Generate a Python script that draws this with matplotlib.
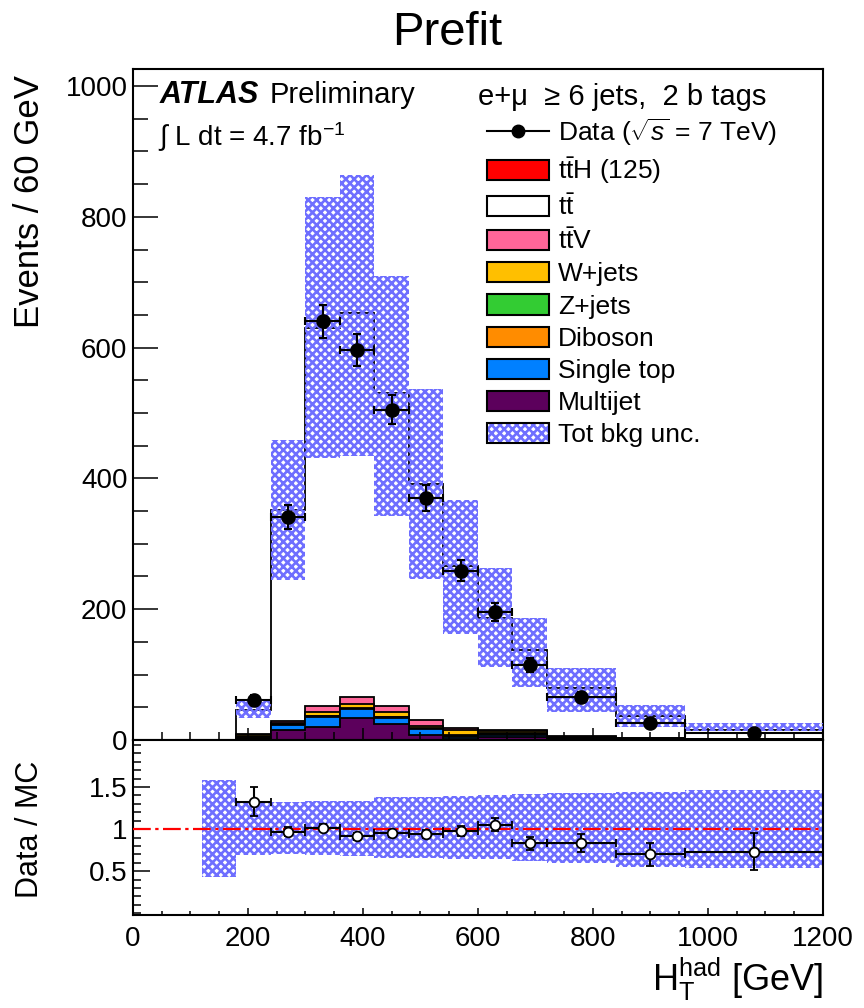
import numpy as np
import matplotlib
matplotlib.use("Agg")
import matplotlib.pyplot as plt
from matplotlib.patches import Patch
from matplotlib.lines import Line2D
from matplotlib.ticker import MultipleLocator

plt.rcParams['font.family'] = ['Liberation Sans', 'DejaVu Sans']
plt.rcParams['mathtext.fontset'] = 'custom'
plt.rcParams['mathtext.rm'] = 'Liberation Sans'
plt.rcParams['mathtext.it'] = 'Liberation Sans:italic'
plt.rcParams['mathtext.bf'] = 'Liberation Sans:bold'
plt.rcParams['hatch.linewidth'] = 1.9

# ---- data ----
edges = [180, 240, 300, 360, 420, 480, 540, 600, 660, 720, 840, 960, 1200]
data = [61, 341, 640, 597, 505, 370, 259, 196, 114, 66, 26, 11]
mc_total = [46, 351, 630, 653, 530, 392, 266, 186, 137, 79, 37, 15]

multijet = [2, 15, 20, 33, 24, 8, 1, 5, 5, 1.5, 1, 0.5]
single_top = [1.5, 8, 15, 14, 10, 9, 4, 3, 3, 1, 0.5, 0.3]
diboson = [0.5, 0.5, 1, 1, 1, 0.5, 1, 1, 1, 0.5, 0.2, 0.1]
zjets = [1, 0.5, 0.5, 1, 0.5, 0.5, 1, 1, 1, 0.5, 0.2, 0.1]
wjets = [2, 1.5, 7, 6, 8, 3, 8, 3, 3, 1, 0.5, 0.3]
ttv = [1.5, 3, 9, 10, 9, 9, 4, 3, 3, 1, 0.5, 0.4]

unc_lo = [33, 244, 431, 434, 343, 246, 162, 111, 81, 43, 20, 13]
unc_hi = [59, 459, 830, 864, 710, 536, 367, 263, 187, 110, 53, 26]

ratio_edges = [120, 180, 240, 300, 360, 420, 480, 540, 600, 660, 720, 840, 960, 1200]
ratio_unc_lo = [0.43, 0.69, 0.70, 0.69, 0.68, 0.66, 0.66, 0.65, 0.64, 0.62, 0.60, 0.55, 0.54]
ratio_unc_hi = [1.58, 1.32, 1.32, 1.33, 1.34, 1.38, 1.38, 1.39, 1.40, 1.42, 1.43, 1.44, 1.46]

labels = ['Data ($\\sqrt{s}$ = 7 TeV)', 't$\\bar{\\rm t}$H (125)', 't$\\bar{\\rm t}$',
          't$\\bar{\\rm t}$V', 'W+jets', 'Z+jets', 'Diboson', 'Single top',
          'Multijet', 'Tot bkg unc.']
colors = {'ttH': '#ff0000', 'tt': '#ffffff', 'ttV': '#ff6699', 'W': '#ffbf00',
          'Z': '#33cc33', 'DB': '#ff8c00', 'ST': '#0080ff', 'MJ': '#5c005c'}
band_col = '#6e6eff'
band_hatch = 'xxxx'

edges = np.array(edges, float)
centers = 0.5 * (edges[1:] + edges[:-1])
halfw = 0.5 * (edges[1:] - edges[:-1])
data = np.array(data, float)
mc_total = np.array(mc_total, float)

# ---- figure ----
fig = plt.figure(figsize=(8.64, 10.08), dpi=100)
ax = fig.add_axes([0.1539, 0.2659, 0.7986, 0.6656])
ax2 = fig.add_axes([0.1539, 0.0923, 0.7986, 0.1736])

# stacked histograms: draw cumulative from the top down
layers = [(multijet, 'MJ'), (single_top, 'ST'), (diboson, 'DB'),
          (zjets, 'Z'), (wjets, 'W'), (ttv, 'ttV')]
cum = []
run = np.zeros(len(data))
for vals, key in layers:
    run = run + np.array(vals, float)
    cum.append((run.copy(), key))

z = 2
ax.stairs(mc_total, edges, fill=True, facecolor='white', edgecolor='k', lw=1.3, zorder=z)
for vals, key in reversed(cum):
    z += 0.01
    ax.stairs(vals, edges, fill=True, facecolor=colors[key], edgecolor='k', lw=1.3, zorder=z)

# uncertainty band
ax.bar(edges[:-1], np.array(unc_hi) - np.array(unc_lo), width=np.diff(edges),
       bottom=unc_lo, align='edge', facecolor='none', edgecolor=band_col,
       hatch=band_hatch, linewidth=0, zorder=3)

ax.errorbar(centers, data, xerr=halfw, yerr=np.sqrt(data), fmt='o', color='k',
            ms=9.5, elinewidth=1.5, capsize=3, capthick=1.5, zorder=5)

ax.set_xlim(0, 1200)
ax.set_ylim(0, 1026)
ax.yaxis.set_major_locator(MultipleLocator(200))
ax.yaxis.set_minor_locator(MultipleLocator(50))
ax.xaxis.set_major_locator(MultipleLocator(200))
ax.xaxis.set_minor_locator(MultipleLocator(50))
ax.tick_params(axis='both', which='both', direction='in', top=False, right=False, width=1.1)
ax.tick_params(axis='y', which='major', length=18, labelsize=20, pad=4)
ax.tick_params(axis='y', which='minor', length=11)
ax.tick_params(axis='x', which='major', length=9, labelbottom=False)
ax.tick_params(axis='x', which='minor', length=6)
ax.set_axisbelow(False)
for s in ax.spines.values():
    s.set_linewidth(1.5)

ax.text(0.039, 0.961, 'ATLAS', transform=ax.transAxes, fontsize=22,
        fontweight='bold', fontstyle='italic', va='center', ha='left')
ax.text(0.198, 0.961, 'Preliminary', transform=ax.transAxes, fontsize=21,
        va='center', ha='left')
ax.text(0.036, 0.899, '$\\int$ L dt = 4.7 fb$^{-1}$', transform=ax.transAxes,
        fontsize=20, va='center', ha='left')
ax.text(0.50, 0.958, 'e+\u03bc  \u2265 6 jets,  2 b tags', transform=ax.transAxes,
        fontsize=21, va='center', ha='left')

handles = [Line2D([0], [0], color='k', marker='o', ms=9, lw=1.5)]
for key in ['ttH', 'tt', 'ttV', 'W', 'Z', 'DB', 'ST', 'MJ']:
    handles.append(Patch(facecolor=colors[key], edgecolor='k', lw=1.5))
handles.append((Patch(facecolor='none', edgecolor=band_col, hatch=band_hatch, lw=0),
                Patch(facecolor='none', edgecolor='k', lw=1.5)))
ax.legend(handles, labels, loc='upper left', bbox_to_anchor=(0.513, 0.930),
          frameon=False, fontsize=19, borderpad=0, borderaxespad=0,
          handlelength=2.35, handleheight=0.8, handletextpad=0.35,
          labelspacing=0.30)

# ---- ratio panel ----
redges = np.array(ratio_edges, float)
ax2.bar(redges[:-1], np.array(ratio_unc_hi) - np.array(ratio_unc_lo), width=np.diff(redges),
        bottom=ratio_unc_lo, align='edge', facecolor='none', edgecolor=band_col,
        hatch=band_hatch, linewidth=0, zorder=2)
ax2.axhline(1.0, color='red', lw=1.6, ls=(0, (8, 2, 1.5, 2)), zorder=3)
ratio = data / mc_total
ax2.errorbar(centers, ratio, xerr=halfw, yerr=np.sqrt(data) / mc_total, fmt='o',
             color='k', mfc='white', mec='k', ms=7, mew=1.3, elinewidth=1.5,
             capsize=3, capthick=1.5, zorder=5)
ax2.set_xlim(0, 1200)
ax2.set_ylim(-0.02, 2.06)
ax2.set_yticks([0.5, 1, 1.5])
ax2.set_yticklabels(['0.5', '1', '1.5'])
ax2.yaxis.set_minor_locator(MultipleLocator(0.1))
ax2.xaxis.set_major_locator(MultipleLocator(200))
ax2.xaxis.set_minor_locator(MultipleLocator(50))
ax2.tick_params(axis='both', which='both', direction='in', top=False, right=False, width=1.1)
ax2.tick_params(axis='y', which='major', length=12, labelsize=20, pad=4)
ax2.tick_params(axis='y', which='minor', length=6)
ax2.tick_params(axis='x', which='major', length=5, labelsize=20, pad=8)
ax2.tick_params(axis='x', which='minor', length=3)
ax2.set_axisbelow(False)
for s in ax2.spines.values():
    s.set_linewidth(1.5)

fig.text(30 / 864, 1 - 75 / 1008, 'Events / 60 GeV', rotation=90, fontsize=25,
         ha='center', va='top')
fig.text(30 / 864, 1 - 829 / 1008, 'Data / MC', rotation=90, fontsize=22,
         ha='center', va='center')
fig.text(823 / 864, 1 - 979 / 1008, 'H$_{\\rm T}^{\\rm had}$ [GeV]', fontsize=26,
         ha='right', va='center')
fig.text(447 / 864, 1 - 33 / 1008, 'Prefit', fontsize=34, ha='center', va='center')

fig.savefig('out.png', dpi=100)
